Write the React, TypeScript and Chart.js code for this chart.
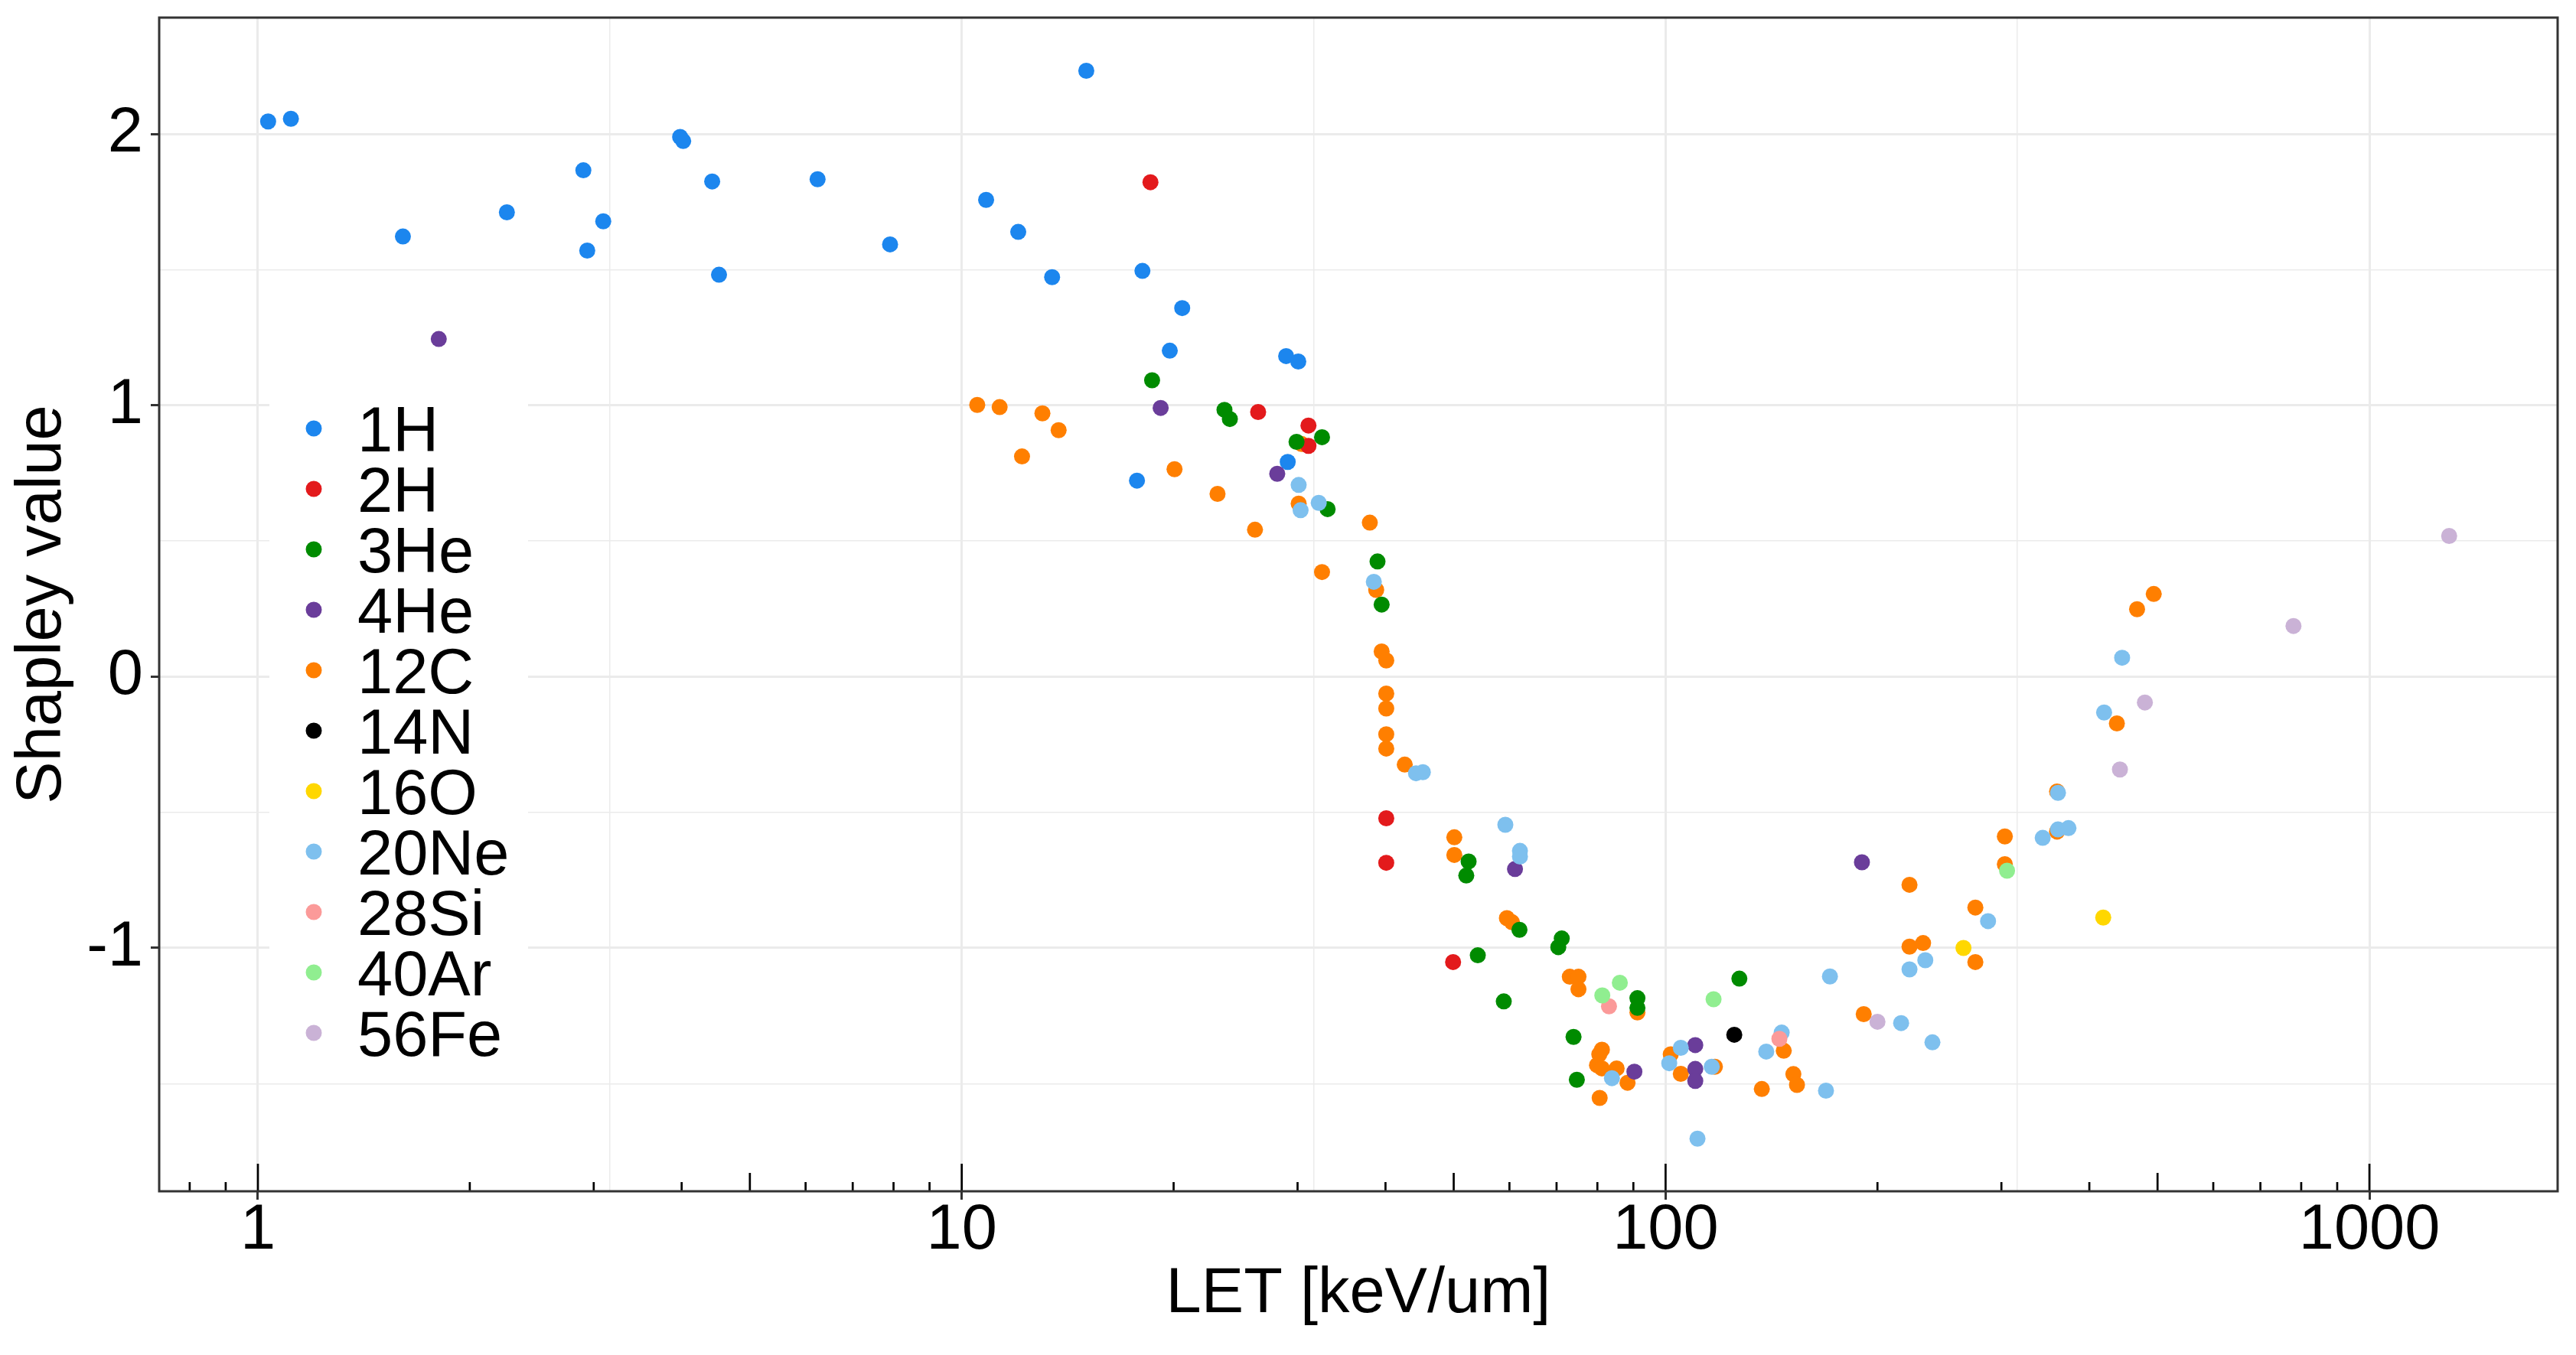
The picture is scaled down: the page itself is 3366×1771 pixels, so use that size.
import React, { useEffect, useRef } from 'react';
import { Chart, registerables } from 'chart.js';

Chart.register(...registerables);

// ion species, in legend order, with their colours
const IONS = ['1H', '2H', '3He', '4He', '12C', '14N', '16O', '20Ne', '28Si', '40Ar', '56Fe'];
const ION_COLORS = ['#1C86EE', '#E31A1C', '#008B00', '#6A3D9A', '#FF7F00', '#000000', '#FFD700', '#7EC0EE', '#FB9A99', '#90EE90', '#CAB2D6'];

// LET [keV/um] and Shapley value, one pair of arrays per ion
const LET_1H = [1.034, 1.114, 1.607, 2.258, 2.9, 3.095, 2.937, 3.98, 4.02, 4.42, 4.52, 6.24, 7.91, 10.83, 12.03, 13.44, 15.03, 18.06, 20.57, 19.75, 28.9, 30.07, 17.74, 29.05];
const SHAP_1H = [2.047, 2.057, 1.623, 1.712, 1.867, 1.679, 1.571, 1.99, 1.975, 1.826, 1.482, 1.834, 1.594, 1.758, 1.64, 1.473, 2.234, 1.496, 1.359, 1.202, 1.182, 1.162, 0.723, 0.792];

const LET_2H = [18.54, 26.37, 31.09, 31.09, 40.1, 40.1, 49.9];
const SHAP_2H = [1.823, 0.976, 0.926, 0.851, -0.522, -0.686, -1.052];

const LET_3HE = [18.64, 23.62, 24.04, 29.9, 32.5, 33.1, 38.97, 39.5, 52.5, 52.1, 62.0, 54.1, 58.9, 71.2, 70.4, 91.2, 91.2, 74.0, 74.8, 127.3];
const SHAP_3HE = [1.093, 0.984, 0.95, 0.866, 0.883, 0.618, 0.425, 0.266, -0.681, -0.733, -0.933, -1.027, -1.197, -0.965, -0.997, -1.185, -1.221, -1.328, -1.486, -1.113];

const LET_4HE = [1.807, 19.17, 28.07, 61.1, 90.3, 110.2, 110.2, 110.2, 190.1];
const SHAP_4HE = [1.245, 0.991, 0.748, -0.709, -1.456, -1.358, -1.446, -1.49, -0.684];

const LET_12C = [10.52, 11.32, 13.02, 13.73, 12.18, 20.06, 23.09, 26.1, 30.4, 30.11, 38.0, 32.5, 38.8, 39.5, 40.1, 40.1, 40.1, 40.1, 40.1, 42.6, 50.1, 50.1, 59.5, 60.5, 73.1, 75.2, 75.2, 91.2, 81.2, 80.5, 79.9, 81.2, 85.2, 88.3, 80.6, 101.7, 105.1, 117.5, 137.0, 147.2, 151.9, 153.7, 191.2, 222.1, 222.1, 232.2, 275.5, 275.5, 303.4, 303.4, 359.9, 359.9, 437.7, 467.6, 493.8];
const SHAP_12C = [1.002, 0.994, 0.971, 0.909, 0.812, 0.765, 0.674, 0.542, 0.858, 0.638, 0.568, 0.386, 0.32, 0.093, 0.06, -0.062, -0.117, -0.212, -0.265, -0.324, -0.592, -0.657, -0.89, -0.905, -1.106, -1.106, -1.152, -1.238, -1.375, -1.392, -1.432, -1.444, -1.444, -1.497, -1.553, -1.392, -1.464, -1.438, -1.52, -1.379, -1.465, -1.505, -1.244, -0.767, -0.995, -0.982, -0.851, -1.052, -0.589, -0.691, -0.423, -0.571, -0.172, 0.249, 0.305];

const LET_14N = [125.2];
const SHAP_14N = [-1.32];

const LET_16O = [265.0, 418.6];
const SHAP_16O = [-1.0, -0.888];

const LET_20NE = [30.11, 30.3, 32.15, 38.5, 44.2, 45.2, 59.2, 62.1, 62.1, 83.9, 101.2, 105.1, 116.3, 111.0, 139.0, 146.2, 169.0, 171.2, 216.1, 239.4, 222.1, 233.9, 287.2, 343.4, 361, 373.6, 361, 419.8, 445.3];
const SHAP_20NE = [0.707, 0.614, 0.641, 0.35, -0.356, -0.352, -0.546, -0.642, -0.663, -1.48, -1.425, -1.368, -1.438, -1.703, -1.382, -1.312, -1.526, -1.105, -1.277, -1.348, -1.079, -1.045, -0.901, -0.594, -0.563, -0.558, -0.428, -0.132, 0.07];

const LET_28SI = [83.1, 145.1];
const SHAP_28SI = [-1.215, -1.335];

const LET_40AR = [86.1, 81.3, 117.0, 305.6];
const SHAP_40AR = [-1.128, -1.175, -1.189, -0.715];

const LET_56FE = [200.0, 442.1, 479.7, 780, 1298];
const SHAP_56FE = [-1.272, -0.342, -0.095, 0.187, 0.519];

const LET_SERIES = [LET_1H, LET_2H, LET_3HE, LET_4HE, LET_12C, LET_14N, LET_16O, LET_20NE, LET_28SI, LET_40AR, LET_56FE];
const SHAP_SERIES = [SHAP_1H, SHAP_2H, SHAP_3HE, SHAP_4HE, SHAP_12C, SHAP_14N, SHAP_16O, SHAP_20NE, SHAP_28SI, SHAP_40AR, SHAP_56FE];

// axes: grid positions (major + minor) and the labelled ones
const X_GRID = [1, 3.162, 10, 31.62, 100, 316.2, 1000];
const X_LABELS = [1, 10, 100, 1000];
const Y_GRID = [-1.5, -1, -0.5, 0, 0.5, 1, 1.5, 2];
const Y_LABELS = [-1, 0, 1, 2];

const FONT = '"Liberation Sans", Arial, sans-serif';
const GRID_COLOR = '#EBEBEB';

// log ticks along the bottom, panel border and the legend inside the panel
const panelPlugin = {
  id: 'panel',
  afterDatasetsDraw(chart: any) {
    const { ctx, chartArea: a } = chart;
    const x = chart.scales.x;
    ctx.save();

    ctx.strokeStyle = '#000000';
    ctx.lineWidth = 2.7;
    for (const d of [0.1, 1, 10, 100, 1000]) {
      for (let k = 1; k <= 9; k++) {
        const v = d * k;
        if (v < x.min || v > x.max) continue;
        const px = x.getPixelForValue(v);
        const len = k === 1 ? 36 : k === 5 ? 24 : 12;
        ctx.beginPath();
        ctx.moveTo(px, a.bottom);
        ctx.lineTo(px, a.bottom - len);
        ctx.stroke();
      }
    }

    ctx.strokeStyle = '#333333';
    ctx.lineWidth = 3;
    ctx.strokeRect(a.left, a.top, a.right - a.left, a.bottom - a.top);

    // legend
    ctx.fillStyle = '#ffffff';
    ctx.fillRect(352, 522, 338, 873);
    ctx.font = `83px ${FONT}`;
    ctx.textBaseline = 'alphabetic';
    ctx.textAlign = 'left';
    chart.data.datasets.forEach((ds: any, i: number) => {
      const cy = 560 + i * 79;
      ctx.fillStyle = ds.backgroundColor;
      ctx.beginPath();
      ctx.arc(410, cy, 10.5, 0, Math.PI * 2);
      ctx.fill();
      ctx.fillStyle = '#000000';
      ctx.fillText(ds.label, 467, cy + 30);
    });

    ctx.restore();
  },
};

const ShapleyChart: React.FC = () => {
  const chartRef = useRef<HTMLCanvasElement>(null);
  const chartInstance = useRef<Chart | null>(null);

  useEffect(() => {
    if (!chartRef.current) return;
    const ctx = chartRef.current.getContext('2d');
    if (!ctx) return;

    if (chartInstance.current) {
      chartInstance.current.destroy();
      chartInstance.current = null;
    }

    Chart.defaults.font.family = FONT;

    const datasets = IONS.map((ion, i) => ({
      label: ion,
      data: LET_SERIES[i].map((v, j) => ({ x: v, y: SHAP_SERIES[i][j] })),
      backgroundColor: ION_COLORS[i],
      borderWidth: 0,
      pointRadius: 10.5,
      pointHoverRadius: 10.5,
      // 12C sits underneath, later ions on top
      order: ion === '12C' ? 100 : -i,
    }));

    chartInstance.current = new Chart(ctx, {
      type: 'scatter',
      data: { datasets },
      plugins: [panelPlugin],
      options: {
        animation: false,
        responsive: true,
        maintainAspectRatio: false,
        layout: { padding: { top: 23, right: 24, bottom: 0, left: 0 } },
        plugins: {
          legend: { display: false },
          tooltip: { enabled: false },
        },
        scales: {
          x: {
            type: 'logarithmic',
            bounds: 'data',
            min: 0.724,
            max: 1851,
            afterBuildTicks: (s: any) => {
              s.ticks = X_GRID.map((v) => ({ value: v }));
            },
            afterFit: (s: any) => {
              s.height = 214;
              s.paddingLeft = 0;
              s.paddingRight = 0;
            },
            border: { display: false },
            grid: {
              color: GRID_COLOR,
              lineWidth: (c: any) => (X_LABELS.includes(c.tick?.value) ? 3 : 1.5),
              drawTicks: true,
              tickLength: 11,
              tickWidth: 3,
              tickColor: (c: any) => (X_LABELS.includes(c.tick?.value) ? '#333333' : 'rgba(0,0,0,0)'),
            },
            ticks: {
              color: '#000000',
              font: { size: 83, lineHeight: 1 },
              padding: 0,
              maxRotation: 0,
              autoSkip: false,
              callback: (v: any) => (X_LABELS.includes(Number(v)) ? String(v) : ''),
            },
            title: {
              display: true,
              text: 'LET [keV/um]',
              color: '#000000',
              font: { size: 83, lineHeight: 1.2 },
              padding: { top: 0, bottom: 29 },
            },
          },
          y: {
            type: 'linear',
            bounds: 'data',
            min: -1.897,
            max: 2.43,
            afterBuildTicks: (s: any) => {
              s.ticks = Y_GRID.map((v) => ({ value: v }));
            },
            afterFit: (s: any) => {
              s.width = 208;
              s.paddingTop = 0;
              s.paddingBottom = 0;
            },
            border: { display: false },
            grid: {
              color: GRID_COLOR,
              lineWidth: (c: any) => (Y_LABELS.includes(c.tick?.value) ? 3 : 1.5),
              drawTicks: true,
              tickLength: 11,
              tickWidth: 3,
              tickColor: (c: any) => (Y_LABELS.includes(c.tick?.value) ? '#333333' : 'rgba(0,0,0,0)'),
            },
            ticks: {
              color: '#000000',
              font: { size: 83, lineHeight: 1 },
              padding: 10,
              autoSkip: false,
              callback: (v: any) => (Y_LABELS.includes(Number(v)) ? String(v) : ''),
            },
            title: {
              display: true,
              text: 'Shapley value',
              color: '#000000',
              font: { size: 83, lineHeight: 1.2 },
              padding: { top: 6, bottom: 0 },
            },
          },
        },
      },
    });

    return () => {
      if (chartInstance.current) {
        chartInstance.current.destroy();
        chartInstance.current = null;
      }
    };
  }, []);

  return (
    <div style={{ position: 'fixed', left: 0, top: 0, width: '3366px', height: '1771px', background: '#ffffff' }}>
      <canvas ref={chartRef}></canvas>
    </div>
  );
};

export default function App() {
  return <ShapleyChart />;
}
